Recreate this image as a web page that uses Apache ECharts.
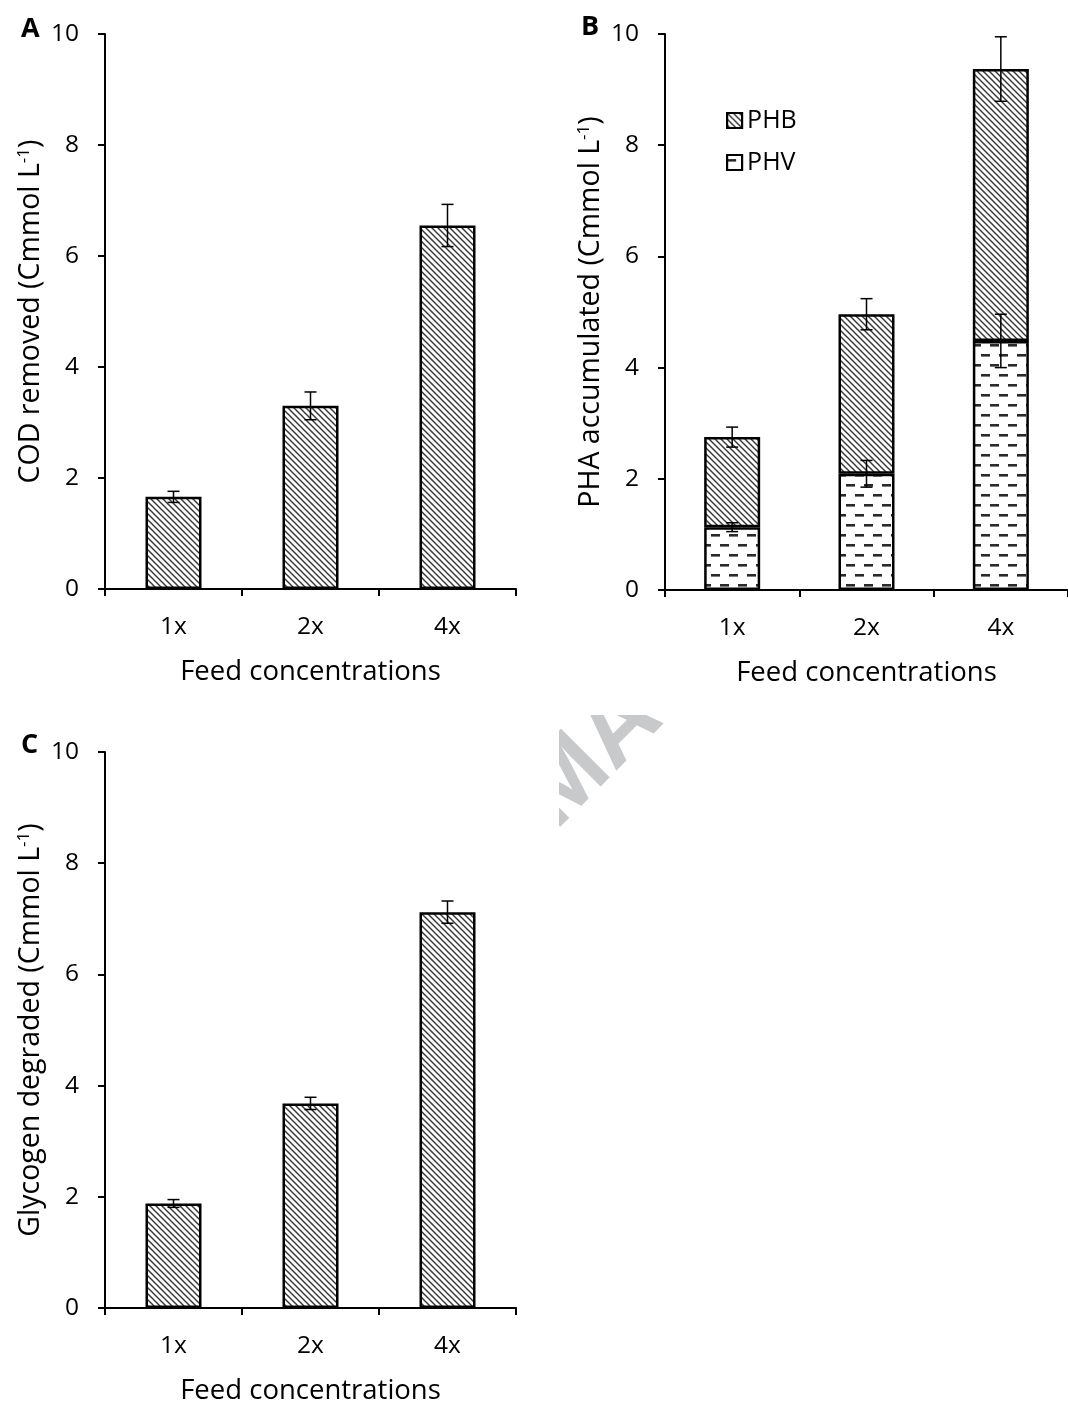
<!DOCTYPE html>
<html><head><meta charset="utf-8">
<script src="https://cdn.jsdelivr.net/npm/echarts@6/dist/echarts.min.js"></script>
<style>html,body{margin:0;padding:0;background:#fff}#c{width:1068px;height:1407px}</style>
</head><body><div id="c"></div>
<script>
// ---- data ----
const categories = ['1x', '2x', '4x'];
const yTicks = [0, 2, 4, 6, 8, 10];
const codRemoved = [1.66, 3.3, 6.55];
const codErr = [0.1, 0.25, 0.38];
const phv = [1.13, 2.09, 4.48];
const phvErr = [0.08, 0.24, 0.48];
const phb = [1.62, 2.87, 4.89];
const phaTotalErr = [0.18, 0.28, 0.58];
const glycogen = [1.88, 3.68, 7.12];
const glycogenErr = [0.07, 0.11, 0.2];

const FONT = 'Open Sans';
const phaTotal = phv.map((v, i) => v + phb[i]);

function hatchCanvas() {
  const c = document.createElement('canvas'); c.width = 6; c.height = 6;
  const g = c.getContext('2d');
  g.fillStyle = '#fff'; g.fillRect(0, 0, 6, 6);
  g.strokeStyle = '#3a3a3a'; g.lineWidth = 1.5;
  for (const k of [-1, 0, 1]) { g.beginPath(); g.moveTo(k * 6 - 1, -1); g.lineTo(k * 6 + 7, 7); g.stroke(); }
  return c;
}
function dashCanvas() {
  const c = document.createElement('canvas'); c.width = 18; c.height = 20;
  const g = c.getContext('2d');
  g.fillStyle = '#fff'; g.fillRect(0, 0, 18, 20);
  g.fillStyle = '#2a2a2a';
  g.fillRect(0, 4, 9, 2.6); g.fillRect(9, 14, 9, 2.6);
  return c;
}
const hatch = { image: hatchCanvas(), repeat: 'repeat' };
const dash = { image: dashCanvas(), repeat: 'repeat' };

const grids = [
  { left: 105, top: 34, width: 411, height: 555 },
  { left: 665, top: 34, width: 408, height: 556 },
  { left: 105, top: 752, width: 411, height: 556 }
];
const yNames = [
  'COD removed (Cmmol L{sup|-1})',
  'PHA accumulated (Cmmol L{sup|-1})',
  'Glycogen degraded (Cmmol L{sup|-1})'
];
const txt = { color: '#000', fontFamily: FONT };

const xAxes = grids.map((g, i) => ({
  type: 'category', gridIndex: i, data: categories, boundaryGap: true,
  axisLine: { lineStyle: { color: '#000', width: 2 } },
  axisTick: { show: true, alignWithLabel: false, length: 7, lineStyle: { color: '#000', width: 2 } },
  axisLabel: Object.assign({ fontSize: 24.5, margin: 26 }, txt),
  name: 'Feed concentrations', nameLocation: 'middle', nameGap: 69,
  nameTextStyle: Object.assign({ fontSize: 27.5 }, txt)
}));
const yAxes = grids.map((g, i) => ({
  type: 'value', gridIndex: i, min: yTicks[0], max: yTicks[yTicks.length - 1], interval: yTicks[1] - yTicks[0],
  splitLine: { show: false },
  axisLine: { show: true, lineStyle: { color: '#000', width: 2 } },
  axisTick: { show: true, length: 7, lineStyle: { color: '#000', width: 2 } },
  axisLabel: Object.assign({ fontSize: 24.5, margin: 26 }, txt),
  name: yNames[i], nameLocation: 'middle', nameRotate: 90, nameGap: 60,
  nameTextStyle: Object.assign({ fontSize: 28.5, rich: { sup: { fontSize: 17, verticalAlign: 'top', fontFamily: FONT, color: '#000' } } }, txt)
}));

function errSeries(ai, centers, errs) {
  return {
    type: 'custom', xAxisIndex: ai, yAxisIndex: ai, z: 10, silent: true,
    encode: { x: 0, y: 1 },
    data: centers.map((c, i) => [i, c, errs[i]]),
    renderItem(params, api) {
      const x = api.value(0), c = api.value(1), e = api.value(2);
      const t = api.coord([x, c + e]), b = api.coord([x, c - e]);
      const hw = 6, st = { stroke: '#000', lineWidth: 1.5 };
      return { type: 'group', children: [
        { type: 'line', shape: { x1: t[0], y1: t[1], x2: b[0], y2: b[1] }, style: st },
        { type: 'line', shape: { x1: t[0] - hw, y1: t[1], x2: t[0] + hw, y2: t[1] }, style: st },
        { type: 'line', shape: { x1: b[0] - hw, y1: b[1], x2: b[0] + hw, y2: b[1] }, style: st }
      ] };
    }
  };
}
const barStyle = (col) => ({ color: col, borderColor: '#000', borderWidth: 2.5 });

const option = {
  animation: false,
  backgroundColor: '#fff',
  grid: grids,
  xAxis: xAxes,
  yAxis: yAxes,
  legend: {
    data: ['PHB', 'PHV'], orient: 'vertical', left: 721, top: 103,
    icon: 'rect', itemWidth: 15, itemHeight: 15, itemGap: 17,
    textStyle: Object.assign({ fontSize: 25, padding: [0, 0, 0, 0] }, txt),
    itemStyle: { borderColor: '#000', borderWidth: 2.2 }
  },
  series: [
    { name: 'COD', type: 'bar', xAxisIndex: 0, yAxisIndex: 0, data: codRemoved, barWidth: 56, itemStyle: barStyle(hatch) },
    { name: 'PHV', type: 'bar', stack: 'pha', xAxisIndex: 1, yAxisIndex: 1, data: phv, barWidth: 56, itemStyle: barStyle(dash) },
    { name: 'PHB', type: 'bar', stack: 'pha', xAxisIndex: 1, yAxisIndex: 1, data: phb, barWidth: 56, itemStyle: barStyle(hatch) },
    { name: 'Glycogen', type: 'bar', xAxisIndex: 2, yAxisIndex: 2, data: glycogen, barWidth: 56, itemStyle: barStyle(hatch) },
    errSeries(0, codRemoved, codErr),
    errSeries(1, phv, phvErr),
    errSeries(1, phaTotal, phaTotalErr),
    errSeries(2, glycogen, glycogenErr)
  ],
  graphic: [
    { type: 'text', x: 536, y: 812, rotation: Math.PI / 4, z: 0,
      style: { text: 'MA', font: 'bold 100px "Liberation Sans"', fill: '#c8c9cb', align: 'left', verticalAlign: 'middle' } },
    { type: 'rect', z: 1, shape: { x: 430, y: 700, width: 129, height: 200 }, style: { fill: '#fff' } },
    { type: 'rect', z: 1, shape: { x: 430, y: 690, width: 400, height: 25 }, style: { fill: '#fff' } },
    { type: 'text', x: 21, y: 16, style: { text: 'A', font: 'bold 27px "Open Sans"', fill: '#000' } },
    { type: 'text', x: 581, y: 14, style: { text: 'B', font: 'bold 27px "Open Sans"', fill: '#000' } },
    { type: 'text', x: 21, y: 732, style: { text: 'C', font: 'bold 27px "Open Sans"', fill: '#000' } }
  ]
};
const chart = echarts.init(document.getElementById('c'), null, { renderer: 'canvas' });
chart.setOption(option);
</script></body></html>
